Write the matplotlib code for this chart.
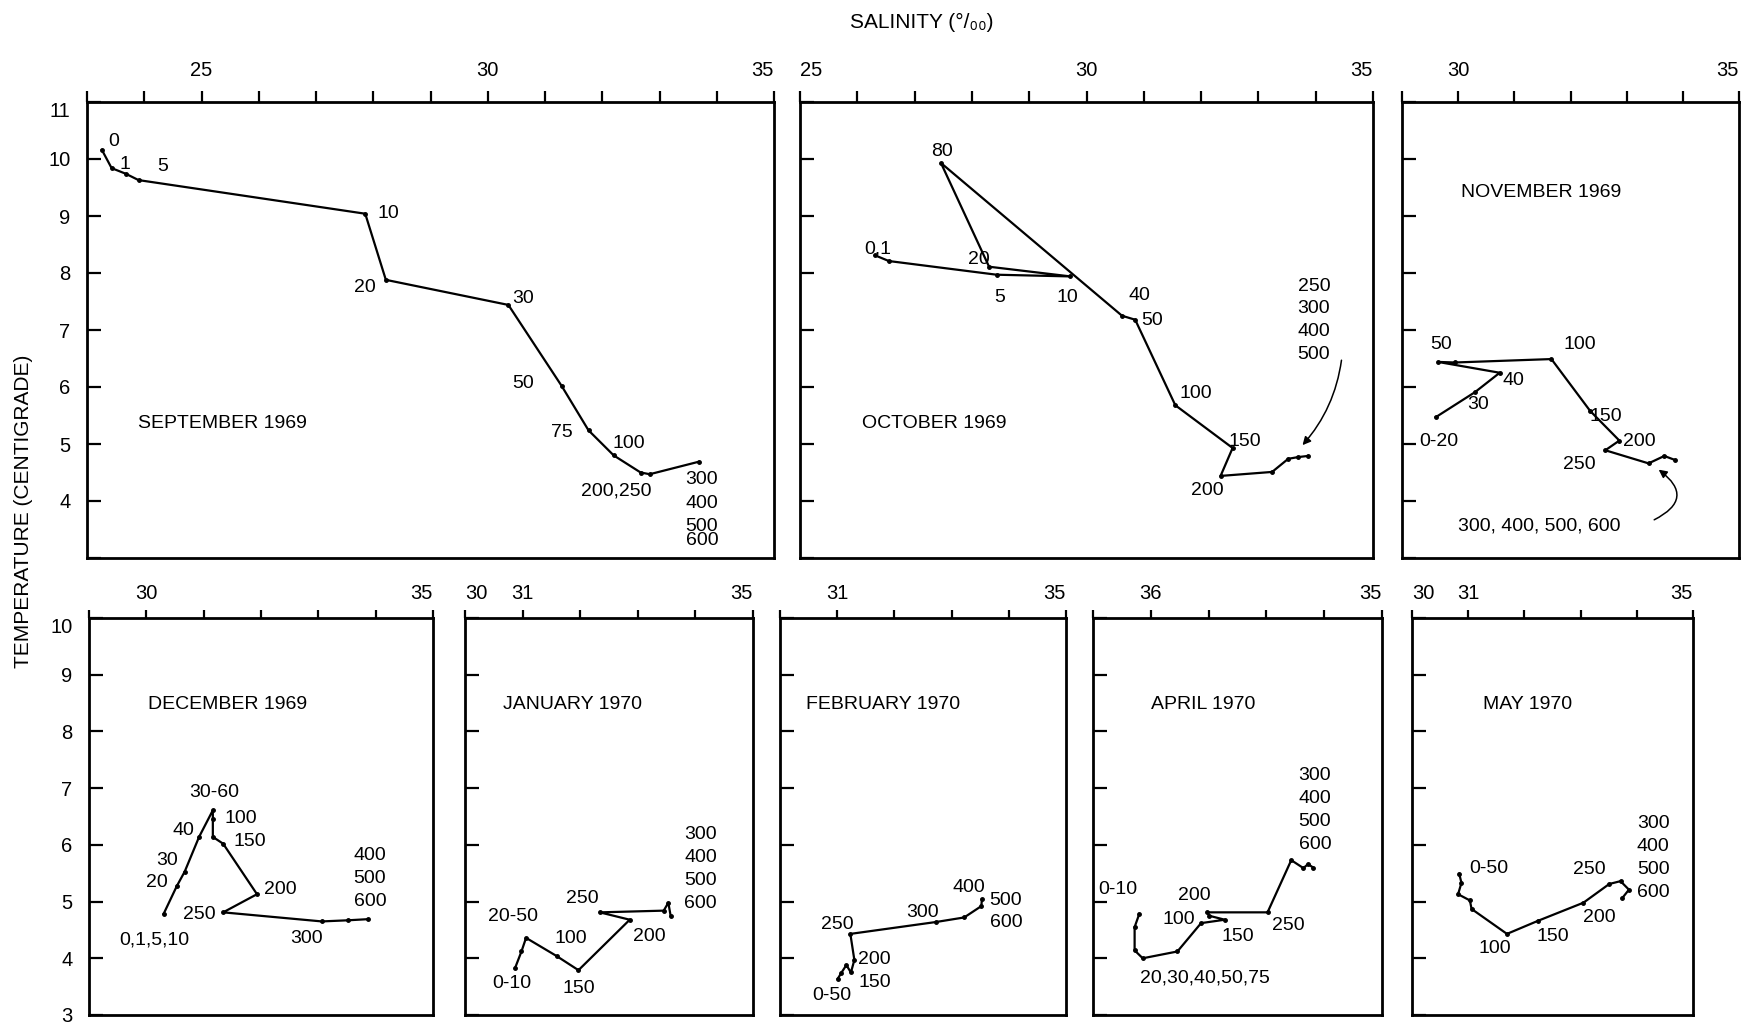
import matplotlib
matplotlib.use('Agg')
import matplotlib.pyplot as plt

plt.rcParams['font.family'] = ['Liberation Sans', 'DejaVu Sans']

# --- T-S данные по месяцам (солёность, температура) ---
sep_sal = [23.26, 23.43, 23.68, 23.90, 27.86, 28.22, 30.36, 31.29, 31.76, 32.20, 32.67, 32.83, 33.69]
sep_temp = [10.16, 9.84, 9.74, 9.63, 9.04, 7.88, 7.44, 6.02, 5.24, 4.80, 4.50, 4.47, 4.69]

oct_sal = [26.31, 26.55, 28.43, 29.72, 28.30, 27.46, 30.62, 30.85, 31.55, 32.55, 32.34, 33.24, 33.52, 33.69, 33.86]
oct_temp = [8.31, 8.21, 7.97, 7.94, 8.11, 9.93, 7.25, 7.18, 5.68, 4.93, 4.44, 4.51, 4.74, 4.77, 4.79]

nov_sal = [29.60, 30.30, 30.74, 29.64, 29.94, 31.66, 32.35, 32.87, 32.62, 33.39, 33.67, 33.86]
nov_temp = [5.47, 5.91, 6.25, 6.44, 6.43, 6.49, 5.58, 5.06, 4.89, 4.66, 4.79, 4.72]

dec_sal = [30.30, 30.53, 30.67, 30.92, 31.16, 31.16, 31.16, 31.34, 31.93, 31.34, 33.06, 33.52, 33.87]
dec_temp = [4.78, 5.27, 5.53, 6.14, 6.61, 6.45, 6.14, 6.02, 5.13, 4.81, 4.65, 4.67, 4.69]

jan_sal = [30.87, 30.98, 31.06, 31.59, 31.97, 32.86, 32.34, 33.45, 33.53, 33.57]
jan_temp = [3.83, 4.12, 4.36, 4.04, 3.79, 4.68, 4.81, 4.84, 4.98, 4.75]

feb_sal = [31.01, 31.07, 31.16, 31.24, 31.30, 31.23, 32.73, 33.22, 33.52, 33.53]
feb_temp = [3.64, 3.74, 3.88, 3.75, 3.97, 4.43, 4.64, 4.72, 4.92, 5.04]

apr_sal = [30.80, 30.72, 30.72, 30.86, 31.46, 31.87, 32.28, 32.01, 31.98, 33.02, 33.43, 33.64, 33.72, 33.81]
apr_temp = [4.78, 4.55, 4.14, 4.00, 4.12, 4.62, 4.68, 4.75, 4.81, 4.81, 5.73, 5.59, 5.66, 5.60]

may_sal = [30.84, 30.88, 30.82, 31.03, 31.06, 31.69, 32.24, 33.05, 33.51, 33.71, 33.86, 33.74]
may_temp = [5.49, 5.33, 5.13, 5.02, 4.87, 4.43, 4.66, 4.98, 5.31, 5.36, 5.21, 5.06]

# подписи глубин (текст, x, y, выравнивание)
sep_labels = [('0', 23.46, 10.30, 'center'), ('1', 23.66, 9.90, 'center'), ('5', 24.32, 9.87, 'center'),
              ('10', 28.27, 9.04, 'center'), ('20', 27.86, 7.75, 'center'), ('30', 30.62, 7.55, 'center'),
              ('50', 30.62, 6.06, 'center'), ('75', 31.29, 5.21, 'center'), ('100', 32.47, 5.01, 'center'),
              ('200,250', 32.25, 4.18, 'center'), ('300', 33.74, 4.37, 'center'), ('400', 33.74, 3.96, 'center'),
              ('500', 33.74, 3.56, 'center'), ('600', 33.74, 3.30, 'center')]
oct_labels = [('0,1', 26.35, 8.42, 'center'), ('80', 27.48, 10.14, 'center'), ('20', 28.12, 8.24, 'center'),
              ('5', 28.48, 7.57, 'center'), ('10', 29.66, 7.57, 'center'), ('40', 30.92, 7.61, 'center'),
              ('50', 31.14, 7.16, 'center'), ('100', 31.90, 5.89, 'center'), ('150', 32.76, 5.05, 'center'),
              ('200', 32.10, 4.18, 'center'), ('250\n300\n400\n500', 33.97, 7.17, 'center')]
nov_labels = [('50', 29.70, 6.74, 'center'), ('100', 32.16, 6.74, 'center'), ('40', 30.98, 6.11, 'center'),
              ('30', 30.36, 5.70, 'center'), ('0-20', 29.31, 5.04, 'left'), ('150', 32.63, 5.49, 'center'),
              ('200', 33.22, 5.04, 'center'), ('250', 32.16, 4.64, 'center'),
              ('300, 400, 500, 600', 31.45, 3.57, 'center')]
dec_labels = [('30-60', 31.18, 6.92, 'center'), ('100', 31.64, 6.47, 'center'), ('40', 30.64, 6.25, 'center'),
              ('150', 31.80, 6.06, 'center'), ('30', 30.36, 5.73, 'center'), ('20', 30.19, 5.33, 'center'),
              ('200', 32.33, 5.21, 'center'), ('250', 30.93, 4.77, 'center'), ('0,1,5,10', 30.14, 4.32, 'center'),
              ('300', 32.79, 4.35, 'center'), ('400\n500\n600', 33.90, 5.41, 'center')]
jan_labels = [('20-50', 30.83, 4.73, 'center'), ('100', 31.84, 4.35, 'center'), ('0-10', 30.81, 3.55, 'center'),
              ('150', 31.97, 3.46, 'center'), ('250', 32.03, 5.06, 'center'), ('200', 33.20, 4.39, 'center'),
              ('300\n400\n500\n600', 34.09, 5.575, 'center')]
feb_labels = [('0-50', 30.90, 3.34, 'center'), ('150', 31.65, 3.57, 'center'), ('200', 31.65, 3.97, 'center'),
              ('250', 31.00, 4.60, 'center'), ('300', 32.50, 4.81, 'center'), ('400', 33.31, 5.24, 'center'),
              ('500\n600', 33.95, 4.825, 'center')]
apr_labels = [('0-10', 30.43, 5.21, 'center'), ('200', 31.75, 5.10, 'center'), ('100', 31.49, 4.69, 'center'),
              ('150', 32.51, 4.39, 'center'), ('250', 33.38, 4.58, 'center'),
              ('20,30,40,50,75', 31.93, 3.65, 'center'), ('300\n400\n500\n600', 33.84, 6.615, 'center')]
may_labels = [('0-50', 31.36, 5.59, 'center'), ('100', 31.48, 4.17, 'center'), ('150', 32.50, 4.38, 'center'),
              ('200', 33.34, 4.72, 'center'), ('250', 33.16, 5.56, 'center'),
              ('300\n400\n500\n600', 34.29, 5.77, 'center')]

W, H = 1741, 1026
FS_TICK = 14.5
FS_TEXT = 14
fig = plt.figure(figsize=(W / 100, H / 100), dpi=100)


def add_panel(left, top, right, bottom):
    # координаты в пикселях исходного рисунка
    return fig.add_axes([left / W, 1 - bottom / H, (right - left) / W, (bottom - top) / H])


def draw_panel(ax, sal, temp, labels, title, title_xy, xlim, ylim, xlabels, ylabels=None, top_row=True):
    ax.plot(sal, temp, color='black', lw=1.6, marker='o', ms=2.5)
    ax.set_xlim(*xlim)
    ax.set_ylim(*ylim)

    for s in ax.spines.values():
        s.set_linewidth(2.0)

    # шкала солёности сверху
    xt = list(range(xlim[0], xlim[1] + 1))
    ax.set_xticks(xt, [xlabels.get(v, ('', 'center'))[0] for v in xt])
    ax.tick_params(axis='x', which='major', direction='out', top=True, bottom=False,
                   labeltop=True, labelbottom=False, length=8 if top_row else 6, width=1.6,
                   pad=8 if top_row else 5, labelsize=FS_TICK)
    for v, tick in zip(xt, ax.xaxis.get_major_ticks()):
        tick.label2.set_ha(xlabels.get(v, ('', 'center'))[1])

    yt = list(range(ylim[0], ylim[1] + 1))
    if ylabels is None:
        ax.set_yticks(yt, ['' for _ in yt])
    else:
        ax.set_yticks(yt, [ylabels.get(v, '') for v in yt])
        ax.yaxis.get_major_ticks()[-1].label1.set_va('top')
    ax.tick_params(axis='y', direction='in', left=True, right=False, length=10, width=1.6,
                   pad=12, labelsize=FS_TICK)

    for txt, x, y, ha in labels:
        ax.text(x, y, txt, ha=ha, va='center', fontsize=FS_TEXT, linespacing=1.45)
    ax.text(title_xy[0], title_xy[1], title, ha='center', va='center', fontsize=FS_TEXT)


ax_sep = add_panel(87, 102, 774, 558)
draw_panel(ax_sep, sep_sal, sep_temp, sep_labels, 'SEPTEMBER 1969', (25.36, 5.36), (23, 35), (3, 11),
           {25: ('25', 'center'), 30: ('30', 'center'), 35: ('35', 'right')},
           ylabels={v: str(v) for v in range(4, 12)})

ax_oct = add_panel(800, 102, 1373, 558)
draw_panel(ax_oct, oct_sal, oct_temp, oct_labels, 'OCTOBER 1969', (27.34, 5.36), (25, 35), (3, 11),
           {25: ('25', 'left'), 30: ('30', 'center'), 35: ('35', 'right')})
ax_oct.annotate('', xy=(33.77, 4.98), xytext=(34.45, 6.47),
                arrowprops=dict(arrowstyle='-|>', color='black', lw=1.1, mutation_scale=12,
                                connectionstyle='arc3,rad=-0.15', shrinkA=0, shrinkB=0))

ax_nov = add_panel(1402, 102, 1739, 558)
draw_panel(ax_nov, nov_sal, nov_temp, nov_labels, 'NOVEMBER 1969', (31.48, 9.41), (29, 35), (3, 11),
           {30: ('30', 'center'), 35: ('35', 'right')})
ax_nov.annotate('', xy=(33.57, 4.55), xytext=(33.49, 3.67),
                arrowprops=dict(arrowstyle='-|>', color='black', lw=1.1, mutation_scale=12,
                                connectionstyle='arc3,rad=0.8', shrinkA=0, shrinkB=0))

ax_dec = add_panel(89, 618, 433, 1015)
draw_panel(ax_dec, dec_sal, dec_temp, dec_labels, 'DECEMBER 1969', (31.41, 8.48), (29, 35), (3, 10),
           {30: ('30', 'center'), 35: ('35', 'right')},
           ylabels={v: str(v) for v in range(3, 11)}, top_row=False)

ax_jan = add_panel(465, 618, 753, 1015)
draw_panel(ax_jan, jan_sal, jan_temp, jan_labels, 'JANUARY 1970', (31.87, 8.48), (30, 35), (3, 10),
           {30: ('30', 'left'), 31: ('31', 'center'), 35: ('35', 'right')}, top_row=False)

ax_feb = add_panel(780, 618, 1066, 1015)
draw_panel(ax_feb, feb_sal, feb_temp, feb_labels, 'FEBRUARY 1970', (31.80, 8.48), (30, 35), (3, 10),
           {31: ('31', 'center'), 35: ('35', 'right')}, top_row=False)

ax_apr = add_panel(1093, 618, 1382, 1015)
draw_panel(ax_apr, apr_sal, apr_temp, apr_labels, 'APRIL 1970', (31.90, 8.48), (30, 35), (3, 10),
           {31: ('36', 'center'), 35: ('35', 'right')}, top_row=False)

ax_may = add_panel(1412, 618, 1693, 1015)
draw_panel(ax_may, may_sal, may_temp, may_labels, 'MAY 1970', (32.06, 8.48), (30, 35), (3, 10),
           {30: ('30', 'left'), 31: ('31', 'center'), 35: ('35', 'right')}, top_row=False)

fig.text(922 / W, 1 - 22 / H, 'SALINITY (°/₀₀)', ha='center', va='center', fontsize=FS_TEXT + 1)
fig.text(24 / W, 1 - 511 / H, 'TEMPERATURE (CENTIGRADE)', rotation=90, ha='center', va='center',
         fontsize=FS_TEXT + 1)

fig.savefig('out.png', dpi=100)
plt.close(fig)
